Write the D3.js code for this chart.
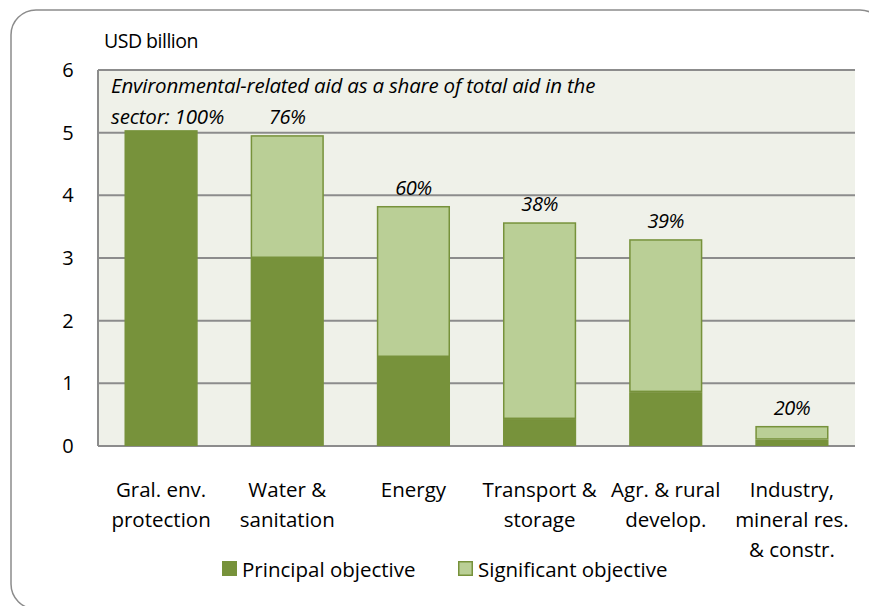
<!DOCTYPE html>
<html>
<head>
<meta charset="utf-8">
<script src="https://cdn.jsdelivr.net/npm/d3@7"></script>
<style>
  body { margin: 0; background: #fff; }
  svg { display: block; font-family: "Open Sans", sans-serif; }
</style>
</head>
<body>
<svg id="chart" width="869" height="606"></svg>
<script>
const sectors = [
  ["Gral. env.", "protection"],
  ["Water &", "sanitation"],
  ["Energy"],
  ["Transport &", "storage"],
  ["Agr. & rural", "develop."],
  ["Industry,", "mineral res.", "& constr."]
];
const principal = [5.04, 3.0, 1.42, 0.43, 0.86, 0.10];
const significant = [0.0, 1.96, 2.41, 3.14, 2.44, 0.22];
const shareLabels = ["", "76%", "60%", "38%", "39%", "20%"];
const yTicks = [0, 1, 2, 3, 4, 5, 6];
const seriesNames = ["Principal objective", "Significant objective"];

const colors = { principal: "#77923b", significant: "#bacf96", edge: "#77923b" };

const svg = d3.select("#chart");

// rounded frame (runs off the right and bottom edges like the original)
svg.append("rect")
  .attr("x", 11).attr("y", 10)
  .attr("width", 874).attr("height", 599)
  .attr("rx", 25).attr("ry", 25)
  .attr("fill", "#fff")
  .attr("stroke", "#8c8c8c").attr("stroke-width", 1.5);

const x = d3.scaleBand()
  .domain(d3.range(sectors.length))
  .range([98, 855])
  .paddingInner(0.42)
  .paddingOuter(0.21);

const y = d3.scaleLinear().domain([0, 6]).range([446, 70]);

// plot background
svg.append("rect")
  .attr("x", 98).attr("y", y(6))
  .attr("width", 855 - 98).attr("height", y(0) - y(6))
  .attr("fill", "#eff1e9");

// gridlines
svg.append("g")
  .selectAll("line")
  .data(yTicks)
  .join("line")
  .attr("x1", 98).attr("x2", 855)
  .attr("y1", d => y(d)).attr("y2", d => y(d))
  .attr("stroke", "#8c8c8c")
  .attr("stroke-width", 2);

svg.append("line")
  .attr("x1", 98).attr("x2", 98)
  .attr("y1", y(6)).attr("y2", y(0))
  .attr("stroke", "#8c8c8c").attr("stroke-width", 2);

// y axis labels
const yAxis = svg.append("g")
  .attr("transform", "translate(78,0)")
  .call(d3.axisLeft(y).tickValues(yTicks).tickSize(0).tickPadding(0).tickFormat(d3.format("d")));
yAxis.select(".domain").remove();
yAxis.selectAll("text")
  .attr("font-size", 20)
  .attr("font-family", "'Open Sans', sans-serif")
  .attr("fill", "#000")
  .attr("text-anchor", "middle")
  .attr("x", -10);

svg.append("text")
  .attr("x", 104).attr("y", 48)
  .attr("font-size", 19.5)
  .attr("fill", "#000")
  .attr("letter-spacing", -0.5)
  .text("USD billion");

// stacked bars
const stackData = principal.map((p, i) => ({ i, principal: p, significant: significant[i] }));
const stack = d3.stack().keys(["principal", "significant"])(stackData);

svg.append("g")
  .selectAll("g")
  .data(stack)
  .join("g")
  .attr("fill", d => colors[d.key])
  .selectAll("rect")
  .data(d => d.filter(s => s[1] - s[0] > 0))
  .join("rect")
  .attr("x", d => x(d.data.i) + 0.75)
  .attr("width", x.bandwidth() - 1.5)
  .attr("y", d => y(d[1]) + 0.75)
  .attr("height", d => y(d[0]) - y(d[1]) - 1.5)
  .attr("stroke", colors.edge)
  .attr("stroke-width", 1.5);

// share labels
svg.append("g")
  .selectAll("text")
  .data(shareLabels.map((t, i) => ({ t, i })).filter(d => d.t))
  .join("text")
  .attr("x", d => x(d.i) + x.bandwidth() / 2)
  .attr("y", d => y(principal[d.i] + significant[d.i]) - 11)
  .attr("text-anchor", "middle")
  .attr("font-size", 20)
  .attr("font-style", "italic")
  .attr("letter-spacing", -0.5)
  .attr("fill", "#000")
  .text(d => d.t);

// annotation
const note = svg.append("text")
  .attr("font-size", 20.5)
  .attr("font-style", "italic")
  .attr("letter-spacing", -0.2)
  .attr("fill", "#000");
note.append("tspan").attr("x", 111).attr("y", 93)
  .text("Environmental-related aid as a share of total aid in the");
note.append("tspan").attr("x", 111).attr("y", 124)
  .text("sector: 100%");

// category labels
svg.append("g")
  .selectAll("text")
  .data(sectors)
  .join("text")
  .attr("x", (d, i) => x(i) + x.bandwidth() / 2)
  .attr("y", 497)
  .attr("text-anchor", "middle")
  .attr("font-size", 20.5)
  .attr("fill", "#000")
  .selectAll("tspan")
  .data(d => d)
  .join("tspan")
  .attr("x", function () { return this.parentNode.getAttribute("x"); })
  .attr("dy", (d, j) => j === 0 ? 0 : 30)
  .text(d => d);

// legend
const legend = svg.append("g")
  .selectAll("g")
  .data(seriesNames)
  .join("g")
  .attr("transform", (d, i) => `translate(${i === 0 ? 222 : 458},561)`);
legend.append("rect")
  .attr("x", 0.75).attr("y", 0.75)
  .attr("width", 13.5).attr("height", 13.5)
  .attr("fill", (d, i) => i === 0 ? colors.principal : colors.significant)
  .attr("stroke", colors.edge).attr("stroke-width", 1.5);
legend.append("text")
  .attr("x", 20).attr("y", 16)
  .attr("font-size", 20.5)
  .attr("fill", "#000")
  .text(d => d);
</script>
</body>
</html>
